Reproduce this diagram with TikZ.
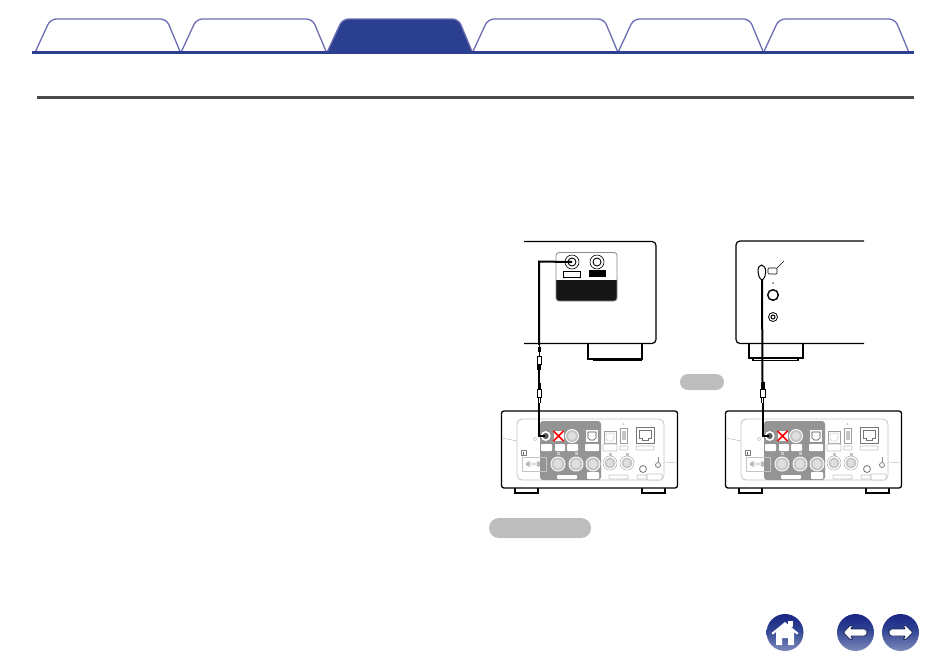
\documentclass[tikz,border=0pt]{standalone}
\definecolor{tabline}{HTML}{6C6DB3}
\definecolor{tabblue}{HTML}{2B3F90}
\definecolor{rulegray}{HTML}{4A4A4A}
\definecolor{pillgray}{HTML}{BDBDBD}
\definecolor{blockgray}{HTML}{949494}
\definecolor{panelgray}{HTML}{C4C4C4}
\pgfdeclareverticalshading{iconfade}{100bp}{
  color(0bp)=(white!75!tabblue);
  color(32bp)=(tabblue!70!white);
  color(56bp)=(tabblue);
  color(100bp)=(blue!45!black!90!tabblue)}
\tikzset{
  tab/.style={draw=tabline, line width=1.3pt, rounded corners=6pt, fill=white},
  tabon/.style={tab, fill=tabblue},
  pill/.style={fill=pillgray, rounded corners=8pt},
  wire/.style={line width=2pt, black},
  tag/.style={fill=white, draw=panelgray, line width=0.7pt, rounded corners=0.8pt},
  whitetag/.style={fill=white, rounded corners=0.8pt},
  plugbody/.style={draw=black, fill=white, line width=1pt},
  roundicon/.style={shading=iconfade},
  iconwhite/.style={fill=white, draw=tabblue!60!black, line width=0.9pt, rounded corners=1.5pt},
  pics/lightjack/.style={code={
    \fill[white] (0,0) circle (#1);
    \fill[panelgray] (0,0) circle (#1-1);
    \fill[panelgray!55] (0,0) circle (#1-3);
  }},
  pics/rearunit/.style={code={
    % Body and feet
    \draw[line width=1.1pt] (515,488) -- (515,493) -- (538,493) -- (538,488);
    \draw[line width=1.1pt] (642,488) -- (642,493) -- (665,493) -- (665,488);
    \draw[line width=1.3pt, rounded corners=2.5pt, fill=white] (501.5,411) rectangle (677.5,488);
    \draw[panelgray, line width=0.6pt] (502,438) -- (517,441);
    \draw[panelgray, line width=0.6pt] (664,462) -- (677,463);
    % Inner panel
    \draw[panelgray, line width=0.8pt, rounded corners=5pt] (517,419) rectangle (664,480);
    \fill[blockgray, rounded corners=3pt] (540,421) rectangle (601,480);
    % Sockets in the gray block
    \fill[white] (545.7,436) circle (5);
    \fill[black!65] (545.7,436) circle (3);
    \fill[white] (553.5,431) rectangle (563.5,441);
    \draw[red, line width=1.7pt] (553.5,431) -- (563.5,441) (553.5,441) -- (563.5,431);
    \pic at (572,436) {lightjack=7};
    \fill[white] (586,430) rectangle (598,442);
    \draw[black!70, line width=0.6pt] (588,432) -- (596,432) -- (596,438) -- (594,440) -- (590,440) -- (588,438) -- cycle;
    \foreach \xa/\xb in {541/552, 555/565, 567/578, 585/599}
      \fill[whitetag] (\xa,444) rectangle (\xb,451);
    \foreach \xa in {558, 576, 593}
      \pic at (\xa,464) {lightjack=7.5};
    \foreach \xa in {558, 576}
      \fill[panelgray] (\xa-1.5,451.5) rectangle (\xa+1.5,454.5);
    \fill[whitetag] (557,475) rectangle (577,479);
    \fill[whitetag] (587,472) rectangle (599,479);
    % Sockets to the right
    \draw[panelgray!80!black, line width=0.8pt, fill=white] (604,431) rectangle (616,443);
    \draw[panelgray, line width=0.5pt] (606,433) -- (614,433) -- (614,439) -- (612,441) -- (608,441) -- (606,439) -- cycle;
    \draw[tag] (603,444) rectangle (617,451);
    \draw[panelgray!80!black, line width=0.7pt] (620,428) rectangle (627,443);
    \fill[panelgray] (621.5,431) rectangle (625.5,440);
    \draw[tag] (620,446) rectangle (628,450);
    \fill[panelgray] (623.5,424) circle (1);
    \draw[panelgray!60!black, line width=0.9pt] (636,427) rectangle (654,443);
    \draw[panelgray!60!black, line width=0.6pt] (639,430) -- (651,430) -- (651,438) -- (648,438) -- (648,440) -- (642,440) -- (642,438) -- (639,438) -- cycle;
    \draw[tag] (636,446) rectangle (654,450);
    \foreach \xa in {610, 627} {
      \draw[panelgray!80!black, line width=0.5pt] (\xa,463) circle (7);
      \pic at (\xa,463) {lightjack=6.5};
      \fill[panelgray] (\xa-1.5,452.5) rectangle (\xa+1.5,455.5);
    }
    \draw[tag] (609,475) rectangle (628,479);
    \draw[panelgray!60!black, line width=0.8pt] (643,469) circle (3.5);
    \draw[tag] (637,475) rectangle (647,479);
    \draw[tag] (647,474) rectangle (662,480);
    \draw[panelgray!60!black, line width=0.7pt] (658,465) circle (2.5);
    \draw[panelgray!70!black, line width=0.6pt] (658,457) -- (658,462);
    % Power inlet
    \draw[panelgray, line width=0.8pt] (522,457) rectangle (546,471);
    \draw[panelgray, line width=0.6pt] (528,461) -- (534,464) -- (539,461) (528,467) -- (534,464) -- (539,467);
    \draw[panelgray!70!black, line width=0.6pt, fill=white] (528,464) circle (1.6) (539,464) circle (1.6);
    \draw[black!50, line width=0.6pt, fill=white] (521.5,450.5) rectangle (526.5,455.5);
    \fill[black!60] (522.5,451.5) rectangle (524,454.5);
    \draw[panelgray, line width=0.6pt] (535,439) circle (1.8);
  }},
}
\begin{document}
\begin{tikzpicture}[x=1pt, y=-1pt]

    % Page size
    \useasboundingbox (0,0) rectangle (950,665);

    % Tabs along the top
    \foreach \tabx in {35, 181, 472.5, 618, 763.5}
      \draw[tab] (\tabx,52.5) -- (\tabx+15.5,19) -- (\tabx+131.5,19) -- (\tabx+145.5,52.5);
    \draw[tabon] (327,52.5) -- (342.5,19) -- (458.5,19) -- (472.5,52.5);
    \fill[tabblue] (32,51) rectangle (914,54);

    % Rule under the heading
    \fill[rulegray] (37,96) rectangle (914,99);

    % Gray labels
    \fill[pill] (680,374) rectangle (724,390);
    \fill[pill, rounded corners=10pt] (489,518) rectangle (591,538);

    % Left device: back panel
    \draw[line width=1.2pt, rounded corners=4pt] (524,241.5) -- (656,241.5) -- (656,343.5) -- (524,343.5);
    \draw[line width=1.1pt] (588,344) -- (588,359) -- (642,359) -- (642,344);
    \draw[line width=1.2pt] (593,360) -- (642,360);
    \fill[rulegray!30!black, rounded corners=3pt] (556,275) rectangle (617,301);
    \fill[white] (556,275) rectangle (617,280);
    \draw[panelgray!70!black, line width=0.8pt, rounded corners=3pt] (556,252.5) rectangle (617,301);
    \foreach \sockx in {572, 597} {
      \draw[line width=0.6pt] (\sockx,262) circle (7);
      \draw[line width=0.9pt] (\sockx,262) circle (4);
    }
    \coordinate (leftsock) at (572,262);
    \draw[line width=1pt] (563.5,271) rectangle (580.5,277.5);
    \fill[black] (589,270) rectangle (606,277);

    % Right device: front panel
    \draw[line width=1.2pt, rounded corners=4pt] (864,241) -- (736,241) -- (736,343.5) -- (864,343.5);
    \draw[line width=1.1pt] (749,344) -- (749,358) -- (803,358) -- (803,344);
    \draw[line width=1.1pt] (753,358) -- (753,360.5) -- (798,360.5) -- (798,358);
    \draw[line width=0.6pt, rounded corners=1pt] (768,268) rectangle (777,274);
    \draw[line width=0.6pt] (777,268) -- (784,261);
    \fill[black!60] (773,283) circle (1);
    \draw[line width=1.4pt] (773,295) circle (5.3);
    \draw[line width=0.8pt] (773,317) circle (4.5);
    \draw[line width=1pt] (773,317) circle (2);

    % The two receivers
    \pic at (0,0) {rearunit};
    \pic at (224,0) {rearunit};
    \coordinate (leftin) at (545,436);
    \coordinate (rightin) at (769,436);

    % Left cable
    \coordinate (lefttop) at (539,345);
    \draw[wire] (leftsock) -- (539,261.5) -- (lefttop);
    \draw[line width=1pt] (lefttop) -- (539,356);
    \fill[black] (537.5,347) rectangle (540.5,352);
    \draw[line width=1.8pt] (539,364) -- (539,385);
    \fill[black] (537,364) rectangle (541,370);
    \fill[black] (537.5,383) rectangle (540.5,389);
    \draw[plugbody] (537,356) rectangle (541.5,364);
    \draw[plugbody] (537,389) rectangle (541.5,397);
    \draw[line width=0.9pt] (538.4,397) -- (538.4,403) (540.2,397) -- (540.2,403);
    \draw[wire] (539,403) -- (539,436) -- (leftin);

    % Right cable
    \coordinate (rightplug) at (762,280);
    \draw[fill=white, line width=1pt] (rightplug) .. controls (756.5,277) and (757,265) .. (761.5,265)
      .. controls (766.5,265) and (767.5,277) .. (rightplug);
    \draw[wire] (rightplug) -- (762.5,383);
    \fill[black] (760.8,382) rectangle (764.5,389);
    \draw[plugbody] (760.5,389) rectangle (765,397);
    \draw[line width=0.9pt] (761.9,397) -- (761.9,403) (763.7,397) -- (763.7,403);
    \draw[wire] (762.5,403) -- (762.5,436) -- (rightin);

    % Home button
    \path[roundicon] (785,632.5) circle (18.5);
    \fill[white] (785,622) -- (798.5,633) -- (797,634.5) -- (794,632) -- (794,645) -- (788,645) -- (788,638) -- (782,638) -- (782,645) -- (776,645) -- (776,632) -- (773,634.5) -- (771.5,633) -- cycle;
    \fill[white] (788,621) rectangle (793,627);

    % Back and forward buttons
    \path[roundicon] (855.5,632.5) circle (18.5);
    \draw[iconwhite] (843,632.5) -- (850.5,625) -- (853.5,626) -- (850,629) -- (866,629) -- (867.5,632.5) -- (866,636) -- (850,636) -- (853.5,639) -- (850.5,640) -- cycle;
    \path[roundicon] (900.5,632.5) circle (18.5);
    \draw[iconwhite] (913,632.5) -- (905.5,625) -- (902.5,626) -- (906,629) -- (890,629) -- (888.5,632.5) -- (890,636) -- (906,636) -- (902.5,639) -- (905.5,640) -- cycle;

\end{tikzpicture}
\end{document}
